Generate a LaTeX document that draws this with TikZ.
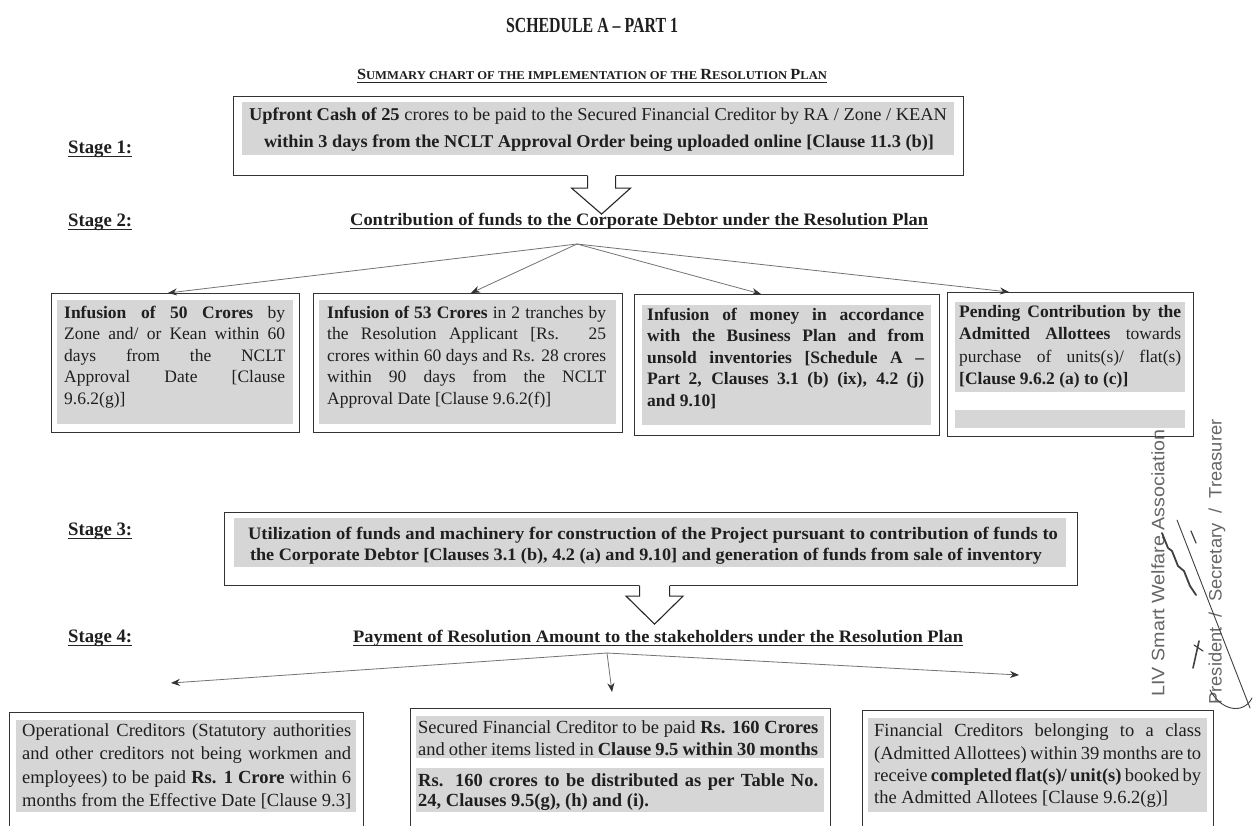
\documentclass[tikz,border=0pt]{standalone}
\usepackage{fontspec}
\setmainfont{Liberation Serif}
\newfontfamily\stampfont{Liberation Sans}
\usepackage{graphicx}
\usetikzlibrary{arrows.meta,calc}

\newsavebox\fitbox
\newlength\fitwd
% scale a line horizontally to an exact width
\newcommand\fitw[2]{\sbox\fitbox{#2}\fitwd=\wd\fitbox\pgfmathsetmacro\fitr{#1/\fitwd}\scalebox{\fitr}[1]{\usebox\fitbox}}
% justified line: stretch spaces, or squeeze if too long
\newcommand\jst[2]{\sbox\fitbox{#2}\fitwd=\wd\fitbox\ifdim\fitwd>#1\relax\pgfmathsetmacro\fitr{#1/\fitwd}\scalebox{\fitr}[1]{\usebox\fitbox}\else\makebox[#1][s]{#2}\fi}
\newcommand\ulin[1]{\draw[uline] ([yshift=-3pt]#1.base west) -- ([yshift=-3pt]#1.base east);}

\tikzset{
  boxfr/.style={draw=black!80, line width=1.1pt, fill=white, inner sep=0pt, anchor=north west},
  shd/.style={fill=black!16},
  tx/.style={inner sep=0pt, anchor=base west, text=black!88},
  tc/.style={inner sep=0pt, anchor=base, text=black!88},
  f4/.style={font=\fontsize{17.5}{21}\selectfont},
  f4b/.style={font=\fontsize{17.5}{21}\selectfont\bfseries},
  fbt/.style={font=\fontsize{18.5}{22}\selectfont},
  fA/.style={font=\fontsize{18}{22}\selectfont},
  stg/.style={inner sep=0pt, anchor=base west, text=black!88, font=\fontsize{19}{22}\selectfont\bfseries},
  uline/.style={draw=black!85, line width=0.9pt},
  conn/.style={draw=black!55, line width=0.8pt, -{Stealth[length=9pt,width=7pt,color=black!80]}},
  hollow/.style={draw=black!85, line width=1.1pt, line join=miter},
  stamp/.style={inner sep=0pt, rotate=90, text=black!60, font=\stampfont\fontsize{18}{20}\selectfont},
  ink/.style={draw=black!75, line cap=round, line join=round},
}

\begin{document}
\begin{tikzpicture}[x=1pt,y=-1pt]
\useasboundingbox (0,0) rectangle (1253,825);
\clip (0,0) rectangle (1253,825);
\fill[white] (0,0) rectangle (1253,825);

% ---------- titles
\node[tc, font=\fontsize{21.5}{24}\selectfont\bfseries] (title) at (592,32) {\fitw{172pt}{SCHEDULE A – PART 1}};
\node[tc, font=\fontsize{15.5}{18}\selectfont\bfseries] (sub) at (592,79) {\fitw{470pt}{S{\fontsize{12}{12}\selectfont UMMARY CHART OF THE IMPLEMENTATION OF THE }R{\fontsize{12}{12}\selectfont ESOLUTION }P{\fontsize{12}{12}\selectfont LAN}}};
\ulin{sub}

% ---------- stage 1
\node[boxfr, minimum width=730pt, minimum height=79pt] (A) at (233,96) {};
\fill[shd] (242,102) rectangle (954,155);
\node[tc, fA] (A1) at (598,120) {\fitw{698pt}{\textbf{Upfront Cash of 25} crores to be paid to the Secured Financial Creditor by RA / Zone / KEAN}};
\node[tc, fA] (A2) at (599,147) {\fitw{670pt}{\textbf{within 3 days from the NCLT Approval Order being uploaded online [Clause 11.3 (b)]}}};
\node[stg] (s1) at (68,153) {\fitw{64pt}{Stage 1:}};
\ulin{s1}

% hollow arrow 1
\coordinate (a1) at ($(A.south)+(3,0)$);
\fill[white] (a1) +(-14,-2) -- +(-14,12) -- +(-30,12) -- +(0,38) -- +(29,12) -- +(14,12) -- +(14,-2) -- cycle;
\draw[hollow] (a1) +(-14,0) -- +(-14,12) -- +(-30,12) -- +(0,38) -- +(29,12) -- +(14,12) -- +(14,0);

% ---------- stage 2
\node[stg] (s2) at (68,226) {\fitw{64pt}{Stage 2:}};
\ulin{s2}
\node[tx, f4b] (c2) at (350,225) {\fitw{578pt}{Contribution of funds to the Corporate Debtor under the Resolution Plan}};
\ulin{c2}
\coordinate (o2) at (577,244);

\node[boxfr, minimum width=248pt, minimum height=139pt] (B1) at (51,293) {};
\node[boxfr, minimum width=309pt, minimum height=139pt] (B2) at (313,293) {};
\node[boxfr, minimum width=305pt, minimum height=141pt] (B3) at (634,294) {};
\node[boxfr, minimum width=246pt, minimum height=144pt] (B4) at (947,292) {};
\fill[shd] (57,300) rectangle (293,424);
\fill[shd] (319,300) rectangle (616,424);
\fill[shd] (642,305) rectangle (931,425);
\fill[shd] (955,302) rectangle (1185,392);
\fill[shd] (955,410) rectangle (1185,428);

\draw[conn] (o2) -- ($(B1.north west)+(117,0)$);
\draw[conn] (o2) -- ($(B2.north west)+(158,0)$);
\draw[conn] (o2) -- ($(B3.north west)+(127,0)$);
\draw[conn] (o2) -- ($(B4.north west)+(62,0)$);

% box 1
\node[tx, f4] (b11) at (64,318) {\jst{221pt}{\textbf{Infusion of 50 Crores} by}};
\node[tx, f4] (b12) at (64,339.5) {\jst{221pt}{Zone and/ or Kean within 60}};
\node[tx, f4] (b13) at (64,361) {\jst{221pt}{days from the NCLT}};
\node[tx, f4] (b14) at (64,382.5) {\jst{221pt}{Approval Date [Clause}};
\node[tx, f4] (b15) at (64,404) {9.6.2(g)]};
% box 2
\node[tx, f4] (b21) at (327,318) {\jst{279pt}{\textbf{Infusion of 53 Crores} in 2 tranches by}};
\node[tx, f4] (b22) at (327,339.5) {\jst{279pt}{the Resolution Applicant [Rs. 25}};
\node[tx, f4] (b23) at (327,361) {\jst{279pt}{crores within 60 days and Rs. 28 crores}};
\node[tx, f4] (b24) at (327,382.5) {\jst{279pt}{within 90 days from the NCLT}};
\node[tx, f4] (b25) at (327,404) {Approval Date [Clause 9.6.2(f)]};
% box 3
\node[tx, f4b] (b31) at (647,320) {\jst{277pt}{Infusion of money in accordance}};
\node[tx, f4b] (b32) at (647,341.5) {\jst{277pt}{with the Business Plan and from}};
\node[tx, f4b] (b33) at (647,363) {\jst{277pt}{unsold inventories [Schedule A –}};
\node[tx, f4b] (b34) at (647,384.5) {\jst{277pt}{Part 2, Clauses 3.1 (b) (ix), 4.2 (j)}};
\node[tx, f4b] (b35) at (647,406) {and 9.10]};
% box 4
\node[tx, f4] (b41) at (959,317) {\jst{222pt}{\textbf{Pending Contribution by the}}};
\node[tx, f4] (b42) at (959,339.5) {\jst{222pt}{\textbf{Admitted Allottees} towards}};
\node[tx, f4] (b43) at (959,362) {\jst{222pt}{purchase of units(s)/ flat(s)}};
\node[tx, f4b] (b44) at (959,384.5) {[Clause 9.6.2 (a) to (c)]};

% ---------- stage 3
\node[stg] (s3) at (68,535) {\fitw{64pt}{Stage 3:}};
\ulin{s3}
\node[boxfr, minimum width=853pt, minimum height=73pt] (C) at (224,512) {};
\fill[shd] (234,518) rectangle (1066,567);
\node[tc, f4b] (C1) at (653,539) {\fitw{810pt}{Utilization of funds and machinery for construction of the Project pursuant to contribution of funds to}};
\node[tc, f4b] (C2) at (646,560) {\fitw{792pt}{the Corporate Debtor [Clauses 3.1 (b), 4.2 (a) and 9.10] and generation of funds from sale of inventory}};

% hollow arrow 2
\coordinate (a2) at ($(C.south)+(3.5,0)$);
\fill[white] (a2) +(-15,-2) -- +(-15,10) -- +(-28.5,10) -- +(0,38) -- +(28.5,10) -- +(15,10) -- +(15,-2) -- cycle;
\draw[hollow] (a2) +(-15,0) -- +(-15,10) -- +(-28.5,10) -- +(0,38) -- +(28.5,10) -- +(15,10) -- +(15,0);

% ---------- stage 4
\node[stg] (s4) at (68,642) {\fitw{64pt}{Stage 4:}};
\ulin{s4}
\node[tx, f4b] (c4) at (353,642) {\fitw{610pt}{Payment of Resolution Amount to the stakeholders under the Resolution Plan}};
\ulin{c4}
\coordinate (o4) at (607,653);
\coordinate (e1) at (171,683);
\coordinate (e2) at (612,692);
\coordinate (e3) at (1019,675);
\draw[conn] (o4) -- (e1);
\draw[conn] (o4) -- (e2);
\draw[conn] (o4) -- (e3);

\node[boxfr, minimum width=354pt, minimum height=140pt] (D1) at (9,712) {};
\node[boxfr, minimum width=420pt, minimum height=140pt] (D2) at (410,708) {};
\node[boxfr, minimum width=351pt, minimum height=140pt] (D3) at (862,710) {};
\fill[shd] (16,720) rectangle (356,812);
\fill[shd] (416,716) rectangle (824,758);
\fill[shd] (416,768) rectangle (824,812);
\fill[shd] (868,718) rectangle (1207,812);

\node[tx, fbt] (d11) at (22,736) {\jst{329pt}{Operational Creditors (Statutory authorities}};
\node[tx, fbt] (d12) at (22,759) {\jst{329pt}{and other creditors not being workmen and}};
\node[tx, fbt] (d13) at (22,783) {\jst{329pt}{employees) to be paid \textbf{Rs. 1 Crore} within 6}};
\node[tx, fbt] (d14) at (22,806) {\jst{329pt}{months from the Effective Date [Clause 9.3]}};

\node[tx, fbt] (d21) at (418,733) {\jst{400pt}{Secured Financial Creditor to be paid \textbf{Rs. 160 Crores}}};
\node[tx, fbt] (d22) at (418,755) {\jst{400pt}{and other items listed in \textbf{Clause 9.5 within 30 months}}};
\node[tx, fbt] (d23) at (418,786) {\jst{400pt}{\textbf{Rs. 160 crores to be distributed as per Table No.}}};
\node[tx, fbt] (d24) at (418,806) {\textbf{24, Clauses 9.5(g), (h) and (i).}};

\node[tx, fbt] (d31) at (874,736) {\jst{327pt}{Financial Creditors belonging to a class}};
\node[tx, fbt] (d32) at (874,759) {\jst{327pt}{(Admitted Allottees) within 39 months are to}};
\node[tx, fbt] (d33) at (874,781) {\jst{327pt}{receive \textbf{completed flat(s)/ unit(s)} booked by}};
\node[tx, fbt] (d34) at (874,803) {the Admitted Allotees [Clause 9.6.2(g)]};

% ---------- stamp and signature
\node[stamp] (st1) at (1158,563) {\fitw{267pt}{LIV Smart Welfare Association}};
\node[stamp] (st2) at (1217,562) {\fitw{285pt}{President \ / \ Secretary \ / \ Treasurer}};
\draw[ink, line width=0.9pt] (1177,520) -- (1250,708);
\draw[ink, line width=1.8pt] (1162,533) -- (1168,548) -- (1172,551) -- (1178,566) -- (1184,571) -- (1190,586) -- (1196,595);
\draw[ink, line width=1.2pt] (1191,531) -- (1196,543);
\draw[ink, line width=1.6pt] (1193,668) -- (1199,641);
\draw[ink, line width=1.2pt] (1194,645) -- (1203,651);
\draw[ink, line width=0.9pt] (1210,690) .. controls (1222,712) and (1244,714) .. (1252,698);
\end{tikzpicture}
\end{document}
